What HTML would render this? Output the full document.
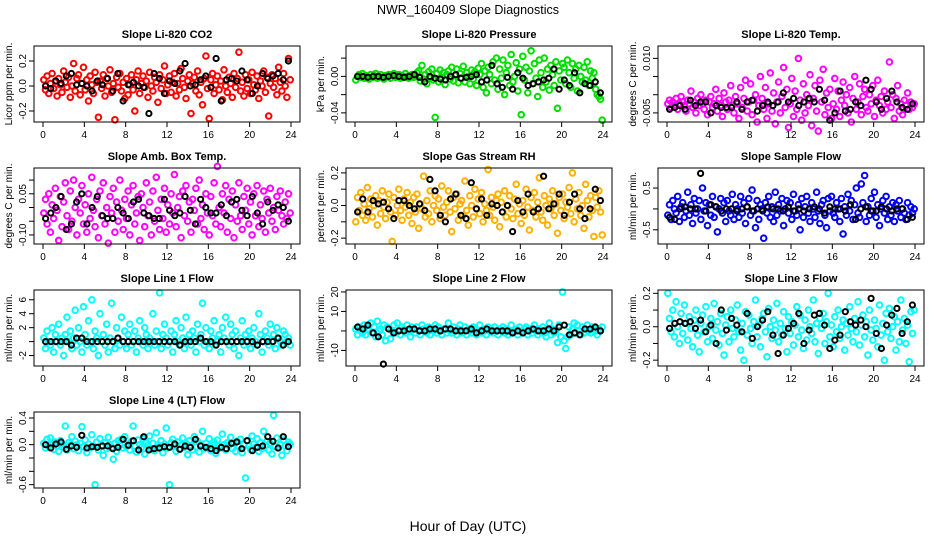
<!DOCTYPE html>
<html><head><meta charset="utf-8"><style>
body{margin:0;background:#fff}
svg{display:block;font-family:"Liberation Sans",Arial,sans-serif}
</style></head><body>
<svg id="chart" width="936" height="540" viewBox="0 0 936 540" xmlns="http://www.w3.org/2000/svg">
<rect width="936" height="540" fill="#fff"/>
<text x="468" y="14" text-anchor="middle" font-size="12.5">NWR_160409  Slope Diagnostics</text>
<text x="468" y="531" text-anchor="middle" font-size="14">Hour of Day (UTC)</text>
</svg>
<script>
const hourTicks=[0,4,8,12,16,20,24];
const titles=["Slope Li-820 CO2","Slope Li-820 Pressure","Slope Li-820 Temp.","Slope Amb. Box Temp.","Slope Gas Stream RH","Slope Sample Flow","Slope Line 1 Flow","Slope Line 2 Flow","Slope Line 3 Flow","Slope Line 4 (LT) Flow"];
const yTitles=["Licor ppm per min.","kPa per min.","degrees C per min.","degrees C per min.","percent per min.","ml/min per min.","ml/min per min.","ml/min per min.","ml/min per min.","ml/min per min."];
const colors=["#ff0000","#00dd00","#ff00ff","#ff00ff","#ffb000","#0000ff","#00ffff","#00ffff","#00ffff","#00ffff"];
const units=[0.01,0.001,0.0005,0.01,0.01,0.05,0.5,1,0.01,0.01];
const domains=[[-0.288,0.32],[-0.05,0.0333],[-0.0075,0.0134],[-0.133,0.144],[-0.236,0.23],[-0.84,0.98],[-3.5,7.4],[-18,21],[-0.235,0.22],[-0.65,0.49]];
const yTickVals=[[-0.2,0,0.2],[-0.04,-0.02,0,0.02],[-0.005,0,0.005,0.01],[-0.1,-0.05,0,0.05,0.1],[-0.2,-0.1,0,0.1,0.2],[-0.5,0,0.5],[-2,0,2,4,6],[-10,0,10,20],[-0.2,-0.1,0,0.1,0.2],[-0.6,-0.4,-0.2,0,0.2,0.4]];
const yTickLabels=[["-0.2","0.0","0.2"],["-0.04","","0.00",""],["-0.005","","","0.010"],["-0.10","","","0.05",""],["-0.2","","0.0","","0.2"],["-0.5","","0.5"],["-2","","2","4","6"],["-10","","10","20"],["-0.2","","0.0","","0.2"],["-0.6","","","0.0","","0.4"]];
const cCO2=[5,-3,8,-6,2,10,-2,4,-8,6,1,-5,12,3,-1,7,-9,0,18,-4,6,9,-7,2,15,-3,5,-12,8,1,-6,11,3,-25,4,-2,9,-8,6,0,13,-5,2,-27,7,-1,10,-4,3,-10,6,-7,1,9,-3,-20,5,12,-6,2,8,-1,4,-9,11,0,-4,7,3,-13,9,-2,5,16,-6,1,8,-5,3,10,-8,2,-3,14,6,-1,-10,4,9,-22,2,7,-4,12,-7,3,-15,6,24,-2,-26,5,10,-6,1,8,-3,4,-11,13,0,-5,7,2,-9,10,-1,6,27,-4,3,-8,9,-2,5,-6,11,1,-3,8,-10,4,0,12,-5,7,-24,2,9,-1,6,-7,15,3,-4,10,0,-9,22,5];
const bCO2=[0,-2,4,2,8,10,1,2,0,-4,4,1,6,-4,10,-12,1,3,0,-1,-22,10,6,-6,4,2,12,18,0,1,5,8,-1,22,-12,5,6,4,12,5,-6,0,10,6,8,10,5,20];
const cPres=[-4,0,2,-1,3,-2,1,0,-3,2,-1,1,3,-2,0,2,-1,-3,1,0,2,-2,1,3,-1,0,2,-2,1,-1,3,0,-2,1,2,-1,0,4,6,-5,12,-3,2,-8,5,-2,8,-4,-45,3,-6,7,-1,4,-9,2,6,-3,10,-5,1,8,-7,3,-2,11,-6,4,0,-8,7,-3,5,-10,9,2,14,-12,6,-18,10,2,-8,16,-4,20,-14,8,-2,18,-20,4,12,-10,24,-6,0,15,-16,8,-42,22,-4,10,-18,6,28,-8,14,-2,-22,18,4,-12,20,-6,8,-15,12,2,-10,16,-35,6,-4,14,10,-8,18,4,-12,14,-2,8,-16,12,0,-6,10,-4,16,-10,6,-2,4,-14,-20,-22,-25,-48];
const bPres=[0,0,-1,0,0,-1,0,1,0,-1,0,2,-1,-6,0,-2,-3,-4,0,2,-2,-1,0,2,-6,-4,12,-8,-12,-1,-14,4,-2,-10,-8,-6,-4,-2,8,-14,-4,-10,4,-18,-8,-10,-6,-18];
const cTemp=[-5,-3,-7,-4,-6,-2,-8,-5,-1,-4,-6,-9,-3,-5,2,-7,-4,-10,-2,-6,0,-5,-8,-3,-11,-4,-1,-7,-5,3,-9,-2,-6,-12,1,-4,-8,-3,5,-6,-10,-1,-5,-13,4,-7,-2,8,-9,-4,6,-11,-3,0,-15,-6,10,-2,-8,4,-13,-5,12,-9,1,-16,-4,7,-10,-1,15,-7,3,-18,-5,9,-12,2,-8,20,-3,-14,6,-10,0,-6,11,-17,-2,5,-9,-20,8,-4,14,-11,1,-7,3,-13,-5,9,-8,2,-12,-3,7,-6,0,-10,4,-15,-2,10,-8,-4,6,-11,-1,3,-7,-9,0,-5,5,-12,-3,8,-6,-1,-10,2,-8,-4,18,-7,0,-13,-2,5,-9,-5,-11,-3,-6,1,-8,-4,-7,-5];
const bTemp=[-8,-7,-6,-8,-3,-6,-4,-4,-10,-6,-7,-7,-7,-4,-8,-4,-3,-9,-6,-4,-6,-4,1,-4,-2,-6,-4,-2,-4,3,-3,-14,-10,2,-9,-8,-4,-6,8,3,-4,-8,-2,2,-4,-7,-8,-5];
const cAmb=[-2,3,-6,5,-9,1,-4,7,-1,-12,4,-7,2,9,-3,-8,6,-5,10,0,-10,3,-2,8,-6,1,-9,5,-4,11,-1,-7,3,-11,6,-3,9,-6,0,-13,4,-2,7,-9,2,-5,10,-1,-8,3,-4,6,-10,1,8,-6,-2,4,-12,5,0,-7,9,-3,2,-10,6,-5,11,-1,-8,3,-4,7,-9,1,-6,5,-2,12,-7,0,4,-11,6,-3,8,-5,2,-9,3,-1,7,-6,10,-4,1,-8,5,-2,-10,4,-3,9,-6,15,0,-7,5,-2,8,-9,3,-4,6,-11,1,-5,9,-3,-8,4,-1,7,-6,2,-10,5,-3,8,-7,1,-4,6,-9,3,-2,7,-5,0,-8,4,-1,6,-3,-6,2,-4,5,-2];
const bAmb=[-4,-2,0,4,-8,-6,2,5,-6,0,4,-3,-4,-4,0,-2,-4,2,3,-2,-3,-4,-4,3,-1,-3,-2,4,-1,-6,3,0,-2,-2,1,-3,2,3,-1,-3,4,-2,-6,2,-1,1,0,-5];
const cRH=[-10,5,-3,8,-6,1,-9,11,-2,4,-7,0,6,-12,3,-5,9,-1,-8,2,7,-4,-22,5,-6,0,10,-3,-9,4,-1,8,-6,2,-11,5,-4,7,-14,1,-2,18,-7,3,-5,9,-10,0,6,-3,4,-8,12,-1,-6,2,9,-4,-16,5,-2,7,-9,1,3,-6,15,-3,-12,6,0,-7,10,-2,4,-5,8,-10,1,-3,22,-6,5,-1,-9,3,7,-13,2,-4,9,-7,0,6,-2,-8,4,13,-5,1,-11,3,-6,10,-1,-15,5,-3,8,-7,2,17,-4,-9,6,0,-12,4,-2,9,-6,1,-17,5,-3,7,-8,2,-1,11,-5,20,-10,4,-2,8,-6,0,-14,13,3,-7,6,-3,-19,5,-1,9,-4,-18];
const bRH=[-4,4,-4,3,1,2,-2,-8,3,3,0,-2,1,-3,16,9,-6,-10,4,7,-6,-8,14,-2,4,-6,1,0,-4,0,-16,3,-4,7,-4,-2,18,-2,1,7,-6,2,7,-2,-8,-2,10,3];
const cSamp=[-3,2,-5,4,0,-2,6,-6,1,3,-4,-1,8,-3,2,-7,5,-2,0,4,-5,10,-1,3,-8,2,-3,6,-4,1,-11,0,5,-2,3,-6,4,-1,-3,7,-5,2,0,-4,6,-2,3,-7,1,5,-3,9,-1,-9,4,-5,2,0,-14,3,-2,6,-4,1,-6,8,-3,2,-1,5,-8,0,4,-2,3,-5,7,-1,-3,2,-10,5,-4,1,6,-2,-6,3,0,-4,8,-1,-7,2,4,-3,-9,5,-1,6,-2,-4,3,0,-6,5,-12,1,-3,7,-1,4,-5,2,10,-2,-4,12,3,16,-6,1,-3,5,-1,8,-4,2,-8,0,4,-2,6,-5,1,-3,3,-6,2,-1,4,-4,0,-2,-5,3,-3,1,-2,0];
const bSamp=[-4,-5,0,1,0,0,17,-1,2,1,-1,0,0,-1,0,1,-1,0,-1,1,0,0,-1,1,-1,0,-1,0,1,0,-2,1,0,0,-1,2,-5,0,1,-1,-1,1,0,-1,0,0,-5,-4];
const cL1=[1,-2,3,0,-1,4,-3,2,0,5,-1,1,-4,2,7,0,3,-2,1,9,-1,4,0,-3,10,2,-1,6,0,12,-2,3,1,-4,8,0,2,-1,5,-3,1,11,0,-2,4,1,-1,7,0,3,-2,2,5,-1,0,3,-3,1,6,0,-1,4,2,-2,1,0,8,-1,3,0,14,-2,2,5,1,-1,0,3,-3,2,6,0,-1,4,1,-2,7,0,2,-1,3,1,-3,5,0,2,11,-1,4,0,-2,3,1,6,-1,0,2,-3,4,1,7,0,-1,5,2,-2,3,0,-4,1,6,-1,2,0,3,-2,1,4,0,-1,8,2,-3,0,3,1,-1,5,0,2,-2,4,1,0,-1,3,2,0,1,-1];
const bL1=[0,0,0,0,0,-1,1,1,0,0,0,0,0,0,1,0,0,0,0,0,0,0,0,0,0,0,-1,0,0,0,1,0,0,-1,0,0,0,0,0,0,0,-1,0,0,0,1,-1,0];
const cL2=[1,-2,2,0,-1,3,-2,1,0,4,-1,2,-3,5,0,1,-2,3,-5,2,1,-4,0,3,-1,4,0,-2,2,1,-1,3,0,-3,2,1,-1,2,0,-2,3,1,0,-1,2,-2,1,0,3,-1,2,0,-2,1,1,-1,4,0,-1,2,0,-2,1,3,-1,0,2,-2,1,0,-1,2,1,-2,0,3,-1,1,0,-2,2,0,1,-1,2,0,-2,1,0,2,-1,1,-2,0,3,-1,0,1,-2,2,0,-1,1,2,-2,0,1,-1,3,0,-2,1,0,2,-1,-3,0,4,-2,1,-1,0,-6,3,-3,20,-5,-9,-3,2,-2,1,4,-1,3,0,-2,2,-1,1,3,0,-1,2,1,0,-2,1,0,2];
const bL2=[2,1,3,-1,-3,-17,1,-1,0,0,1,1,0,0,1,1,0,1,1,0,0,0,1,-1,0,1,0,0,0,0,-1,0,-1,0,1,0,0,1,0,2,3,-2,-1,-2,1,1,2,0];
const cL3=[20,5,-3,10,-6,15,0,-10,8,-4,13,2,-8,6,-1,-12,4,10,-5,-15,2,7,-3,12,-9,0,5,-7,14,-2,3,-11,8,-4,-17,1,6,-9,10,-1,-6,4,13,-3,-14,2,-20,9,-5,7,-1,-10,3,16,-6,1,-12,5,8,-3,-18,11,0,-7,4,-2,14,-9,2,-5,9,-1,-15,6,-4,3,-11,1,12,-6,7,-2,-13,4,-8,10,0,-4,16,-9,2,-16,5,-1,8,-10,3,20,-6,1,-12,6,-3,10,-7,0,4,-14,2,-5,12,-1,-9,5,-3,15,-11,1,7,-6,3,-17,10,-2,-8,4,-1,-12,13,-5,2,-20,8,-3,11,-7,0,6,-14,3,-9,16,-2,5,-10,1,-21,9,-4,10];
const bL3=[-1,2,3,2,3,-1,4,-3,1,-10,10,-2,5,1,-3,8,-7,0,4,9,-5,-16,-5,-1,2,8,-10,-2,7,8,1,-13,-8,-5,9,3,1,4,0,17,-4,-13,1,7,11,-4,3,13];
const cL4=[2,-5,8,-3,10,0,-7,4,-2,-10,6,1,-4,28,-8,3,-1,12,-6,5,0,-9,2,27,-3,7,-12,1,-5,15,-2,-60,4,-8,9,-1,-16,3,-6,11,0,-4,-22,2,-10,6,-1,8,-5,12,-3,1,-8,5,28,-2,-11,7,0,-4,9,-14,3,-1,13,-6,2,-9,18,0,-3,6,-12,1,25,-5,-60,3,8,-2,-10,4,-7,0,10,-4,2,-15,6,-1,-8,12,-3,5,-11,1,20,-6,2,-4,9,-9,0,4,-13,7,-2,-5,16,0,-8,3,-1,11,-6,2,-10,5,-3,8,-12,0,-50,6,-2,-7,13,1,-4,9,-10,3,-6,20,-1,5,-8,2,-14,44,-3,10,-5,0,-16,7,-2,-9,4,1];
const bL4=[0,-5,1,4,-7,-2,-4,14,-5,-3,-4,-2,-2,-6,-4,8,-1,6,-8,12,-8,-6,-5,-3,-4,1,-7,-2,-4,8,-2,-4,-6,-9,-4,-6,2,4,-6,6,-9,-4,-2,12,5,-5,12,-3];
const colorSeries=[cCO2,cPres,cTemp,cAmb,cRH,cSamp,cL1,cL2,cL3,cL4];
const blackSeries=[bCO2,bPres,bTemp,bAmb,bRH,bSamp,bL1,bL2,bL3,bL4];

const NS="http://www.w3.org/2000/svg";
const svg=document.getElementById('chart');
const colLeft=[34,346,658], rowTop=[46,168,290,412], BW=266, BH=76;
function mk(tag,attrs,parent){const e=document.createElementNS(NS,tag);for(const k in attrs)e.setAttribute(k,attrs[k]);parent.appendChild(e);return e;}
for(let p=0;p<10;p++){
  const L=colLeft[p%3], T=rowTop[Math.floor(p/3)];
  const g=mk('g',{},svg);
  
  
  const xs=t=>L+9+t*(248/24);
  const dom=domains[p];
  const ys=v=>T+BH-(v-dom[0])/(dom[1]-dom[0])*BH;
  const title=mk('text',{x:L+BW/2,y:T-8,'text-anchor':'middle','font-size':11,'font-weight':'bold'},g);
  title.textContent=titles[p];
  
  
  const yt=mk('text',{transform:`translate(${L-22},${T+BH/2}) rotate(-90)`,'text-anchor':'middle','font-size':10},g);
  yt.textContent=yTitles[p];
  
  
  const cs=colorSeries[p];
  cs.forEach((v,i)=>{
    const t=24*(i+0.5)/cs.length;
    const c=mk('circle',{cx:xs(t).toFixed(1),cy:ys(v*units[p]).toFixed(1),r:2.8,fill:'none',stroke:colors[p],'stroke-width':2},g);
    
    
  });
  const bs=blackSeries[p];
  bs.forEach((v,i)=>{
    const t=24*(i+0.5)/bs.length;
    const c=mk('circle',{cx:xs(t).toFixed(1),cy:ys(v*units[p]).toFixed(1),r:2.6,fill:'none',stroke:'#000','stroke-width':2},g);
    
    
  });
  const box=mk('rect',{x:L,y:T,width:BW,height:BH,fill:'none',stroke:'#000','stroke-width':1},g);
  
  
  hourTicks.forEach(h=>{
    const x=xs(h);
    mk('line',{x1:x,x2:x,y1:T+BH,y2:T+BH+5,stroke:'#000'},g);
    const tl=mk('text',{x:x,y:T+BH+16,'text-anchor':'middle','font-size':10},g);
    tl.textContent=h;
    
    
  });
  yTickVals[p].forEach((v,i)=>{
    const y=ys(v);
    mk('line',{x1:L,x2:L-5,y1:y,y2:y,stroke:'#000'},g);
    const lab=yTickLabels[p][i];
    if(lab){
      const tl=mk('text',{transform:`translate(${L-8},${y}) rotate(-90)`,'text-anchor':'middle','font-size':10},g);
      tl.textContent=lab;
      
      
    }
  });
}
</script>
</body></html>
